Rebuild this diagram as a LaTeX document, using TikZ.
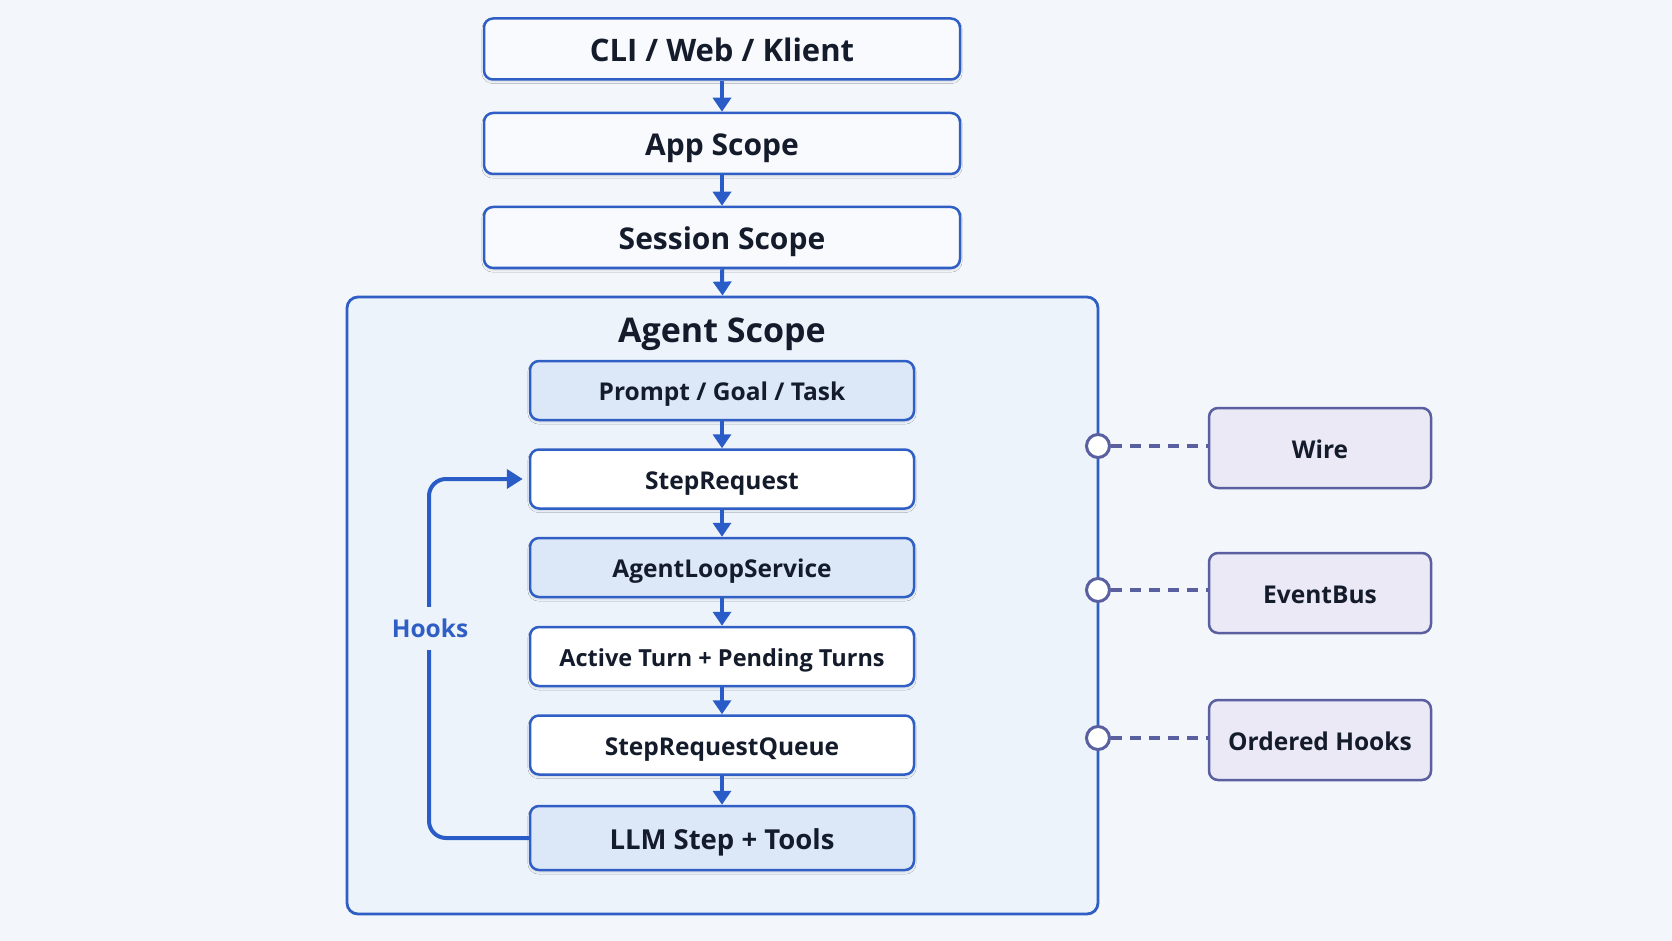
\documentclass[tikz,border=0pt]{standalone}
\usepackage{fontspec}
\setmainfont{Open Sans}
\usetikzlibrary{arrows.meta,shadows.blur}
\definecolor{bg}{HTML}{F3F7FC}
\definecolor{agentfill}{HTML}{EDF3FB}
\definecolor{bblue}{HTML}{2F5FC4}
\definecolor{ablue}{HTML}{2A5CC8}
\definecolor{lightfill}{HTML}{DCE8F8}
\definecolor{sidefill}{HTML}{EAE9F5}
\definecolor{sideline}{HTML}{5A5FA0}
\definecolor{txt}{HTML}{141B2B}
\definecolor{hookblue}{HTML}{2F5FC4}
\tikzset{
  topbox/.style={draw=bblue, line width=2.5pt, rounded corners=9pt, fill=bg!60!white,
    minimum width=476pt, minimum height=61pt, text=txt, text depth=0pt, text height=24pt,
    font=\bfseries\fontsize{30}{34}\selectfont,
    blur shadow={shadow blur steps=6,shadow xshift=0pt,shadow yshift=-2pt,shadow opacity=12}},
  innerbox/.style={draw=bblue, line width=2.5pt, rounded corners=9pt, fill=white,
    minimum width=384pt, minimum height=59pt, text=txt, text depth=0pt, text height=20pt,
    font=\bfseries\fontsize{24.5}{28}\selectfont,
    blur shadow={shadow blur steps=6,shadow xshift=0pt,shadow yshift=-2pt,shadow opacity=12}},
  innerlight/.style={innerbox, fill=lightfill},
  sidebox/.style={draw=sideline, line width=2.5pt, rounded corners=9pt, fill=sidefill,
    minimum width=222pt, minimum height=80pt, text=txt, text depth=0pt, text height=20pt,
    font=\bfseries\fontsize{24.5}{28}\selectfont},
  flow/.style={draw=ablue, line width=4pt, -{Triangle[length=14pt,width=18pt]}},
  port/.style={circle, draw=sideline, fill=white, line width=3pt, minimum size=23pt, inner sep=0pt},
  link/.style={draw=sideline, line width=3.5pt, dash pattern=on 11pt off 8pt},
}
\begin{document}
\begin{tikzpicture}[x=1pt,y=-1pt]
\fill[bg] (0,0) rectangle (1672,941);
\useasboundingbox (0,0) rectangle (1672,941);

% agent scope container
\node[draw=bblue, line width=2.8pt, rounded corners=11pt, fill=agentfill,
  minimum width=751pt, minimum height=617pt, inner sep=0pt] (agent) at (722.5,605.5) {};
\node[text=txt, text depth=0pt, text height=25pt, font=\bfseries\fontsize{34}{38}\selectfont] (agenttitle) at (722,330) {Agent Scope};

% top boxes
\node[topbox, font=\bfseries\fontsize{31}{35}\selectfont, text height=25pt] (cli) at (722,49) {CLI / Web / Klient};
\node[topbox] (app) at (722,143.5) {App Scope};
\node[topbox] (session) at (722,237.5) {Session Scope};

% inner boxes
\node[innerlight] (prompt) at (722,390.5) {Prompt / Goal / Task};
\node[innerbox] (stepreq) at (722,479) {StepRequest};
\node[innerlight] (loop) at (722,567.5) {AgentLoopService};
\node[innerbox, font=\bfseries\fontsize{23.5}{27}\selectfont] (turns) at (722,656.5) {Active Turn + Pending Turns};
\node[innerbox] (queue) at (722,745) {StepRequestQueue};
\node[innerlight, minimum height=64pt, text height=22pt, font=\bfseries\fontsize{27.5}{31}\selectfont] (llm) at (722,838) {LLM Step + Tools};

% flow arrows
\draw[flow] (cli.south) -- (app.north);
\draw[flow] (app.south) -- (session.north);
\draw[flow] (session.south) -- (agent.north);
\draw[flow] (prompt.south) -- (stepreq.north);
\draw[flow] (stepreq.south) -- (loop.north);
\draw[flow] (loop.south) -- (turns.north);
\draw[flow] (turns.south) -- (queue.north);
\draw[flow] (queue.south) -- (llm.north);

% hooks loop
\coordinate (hl) at (429,838);
\coordinate (hu) at (429,479);
\draw[flow, rounded corners=17pt, -{Triangle[length=16pt,width=19pt]}] (llm.west) -- (hl) -- (hu) -- ([xshift=-6pt]stepreq.west);
\node[fill=agentfill, text=hookblue, text depth=0pt, text height=19pt, font=\bfseries\fontsize{24.5}{28}\selectfont, inner xsep=2pt, inner ysep=12pt] (hooks) at (430,628) {Hooks};

% side boxes
\node[sidebox] (wire) at (1320,448) {Wire};
\node[sidebox] (bus) at (1320,593) {EventBus};
\node[sidebox] (ordered) at (1320,740) {Ordered Hooks};

\node[port] (p1) at (1098,446) {};
\node[port] (p2) at (1098,590) {};
\node[port] (p3) at (1098,738) {};
\draw[link] (p1.east) -- (p1.east -| wire.west);
\draw[link] (p2.east) -- (p2.east -| bus.west);
\draw[link] (p3.east) -- (p3.east -| ordered.west);
\end{tikzpicture}
\end{document}
